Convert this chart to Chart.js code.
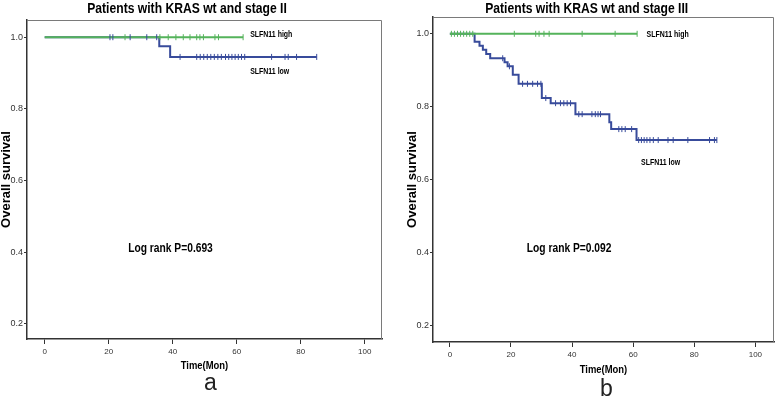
<!DOCTYPE html>
<html><head><meta charset="utf-8">
<script src="https://cdn.jsdelivr.net/npm/chart.js@4.4.0/dist/chart.umd.min.js"></script>
<style>
html,body{margin:0;padding:0;background:#fff;width:778px;height:400px;overflow:hidden;}
#wa{position:absolute;left:0;top:0;width:390px;height:400px;}
#wb{position:absolute;left:390px;top:0;width:388px;height:400px;}
.lab{position:absolute;font-family:'Liberation Sans',Arial,sans-serif;font-size:23px;color:#222;line-height:1;}
</style></head><body>
<div id="wa"><canvas id="ca" width="390" height="400"></canvas></div>
<div id="wb"><canvas id="cb" width="388" height="400"></canvas></div>
<div class="lab" style="left:204px;top:371px;">a</div>
<div class="lab" style="left:600px;top:377px;">b</div>
<script>
// ---- data ----
const xTicks = [0, 20, 40, 60, 80, 100];
const yTicks = [0.2, 0.4, 0.6, 0.8, 1.0];

// Panel a: KRAS wt, stage II
const aTitle = 'Patients with KRAS wt and stage II';
const aHighTime = [0, 62];
const aHighSurv = [1, 1];
const aHighCensor = [25.1, 36, 38.6, 41, 43.3, 45.4, 47.5, 48.5, 49.6, 53.2, 54.3, 62];
const aLowTime = [0, 35.8, 39.2, 85];
const aLowSurv = [1, 0.975, 0.945, 0.945];
const aLowCensor = [20.4, 21.3, 26.7, 31.9, 35, 42.3, 47.5, 48.6, 49.7, 50.8, 51.9, 53, 54.1, 55.2, 56.5, 57.5, 58.5, 59.5, 60.5, 61.5, 62.5, 70.9, 75.1, 76.1, 78.7, 85];
const aPText = 'Log rank P=0.693';

// Panel b: KRAS wt, stage III
const bTitle = 'Patients with KRAS wt and stage III';
const bHighTime = [0, 61.3];
const bHighSurv = [1, 1];
const bHighCensor = [0.5, 1.5, 2.5, 3.5, 4.5, 5.5, 6.5, 7.5, 21.1, 28.1, 29.2, 30.8, 32.5, 43.3, 54.1, 61.3];
const bLowTime = [0, 8.1, 9.7, 10.8, 11.9, 13.2, 17.9, 18.9, 20.6, 22.5, 30.1, 33.0, 41.1, 52.2, 52.8, 61.1, 87.4];
const bLowSurv = [1, 0.978, 0.967, 0.956, 0.945, 0.933, 0.922, 0.911, 0.888, 0.863, 0.824, 0.810, 0.780, 0.758, 0.739, 0.709, 0.709];
const bLowCensor = [17.3, 19.5, 23.8, 25.4, 27.1, 28.7, 29.8, 31.4, 34.6, 36.2, 37.3, 38.4, 39.5, 42.2, 43.3, 46.5, 47.6, 48.5, 49.3, 55.3, 56.3, 57.4, 59.5, 61.8, 62.7, 63.6, 64.5, 65.5, 66.6, 68.2, 71.4, 73.1, 77.9, 85, 86.6, 87.4];
const bPText = 'Log rank P=0.092';

const seriesNames = ['SLFN11 high', 'SLFN11 low'];
const xTitle = 'Time(Mon)';
const yTitle = 'Overall survival';

// ---- styling ----
const GREEN = '#55b35b';
const BLUE = '#384b9b';
const REG = "'Liberation Sans',Arial,sans-serif";
const SQUEEZE = 0.82;

function pts(times, survs) { return times.map((t, i) => ({x: t, y: survs[i]})); }
function survAt(times, survs, t) {
  let s = survs[0];
  for (let i = 0; i < times.length; i++) { if (times[i] <= t) s = survs[i]; }
  return s;
}
function censorPts(cens, times, survs) { return cens.map(t => ({x: t, y: survAt(times, survs, t)})); }

function squeezedText(ctx, text, x, y, font, align) {
  ctx.save();
  ctx.translate(x, y);
  ctx.scale(SQUEEZE, 1);
  ctx.font = font;
  ctx.textAlign = align;
  ctx.textBaseline = 'middle';
  ctx.fillText(text, 0, 0);
  ctx.restore();
}

const kmPlugin = {
  id: 'km',
  afterDraw(chart, args, o) {
    const {ctx, chartArea: ca, scales} = chart;
    ctx.save();
    ctx.strokeStyle = '#7a7a7a';
    ctx.lineWidth = 1;
    ctx.beginPath();
    ctx.moveTo(ca.left, ca.top + 0.5);
    ctx.lineTo(ca.right - 0.5, ca.top + 0.5);
    ctx.lineTo(ca.right - 0.5, ca.bottom);
    ctx.stroke();
    ctx.fillStyle = '#000';
    squeezedText(ctx, o.title, o.titleX, o.titleY, 'bold 14.8px ' + REG, 'center');
    squeezedText(ctx, xTitle, (ca.left + ca.right) / 2, o.xTitleY, 'bold 11.5px ' + REG, 'center');
    for (const l of o.labels) {
      squeezedText(ctx, l.text, scales.x.getPixelForValue(l.x), scales.y.getPixelForValue(l.y), l.font, 'left');
    }
    ctx.restore();
  }
};

function makeChart(id, d) {
  const ds = [
    {type: 'scatter', data: censorPts(d.highCensor, d.highTime, d.highSurv), showLine: false,
     pointStyle: 'line', rotation: 90, pointRadius: 3, pointBorderWidth: 1, borderColor: GREEN, backgroundColor: GREEN, pointHoverRadius: 3},
    {type: 'scatter', data: censorPts(d.lowCensor, d.lowTime, d.lowSurv), showLine: false,
     pointStyle: 'line', rotation: 90, pointRadius: 3, pointBorderWidth: 1, borderColor: BLUE, backgroundColor: BLUE, pointHoverRadius: 3},
    {type: 'line', label: seriesNames[0], data: pts(d.highTime, d.highSurv), stepped: true, borderColor: GREEN, borderWidth: 2, pointRadius: 0, fill: false, tension: 0},
    {type: 'line', label: seriesNames[1], data: pts(d.lowTime, d.lowSurv), stepped: true, borderColor: BLUE, borderWidth: 2, pointRadius: 0, fill: false, tension: 0}
  ];
  return new Chart(document.getElementById(id), {
    type: 'line',
    data: {datasets: ds},
    plugins: [kmPlugin],
    options: {
      responsive: false, animation: false, devicePixelRatio: 1,
      layout: {padding: d.pad},
      plugins: {
        legend: {display: false}, tooltip: {enabled: false}, title: {display: false},
        km: {title: d.title, titleX: d.titleX, titleY: d.titleY, xTitleY: d.xTitleY, labels: d.labels}
      },
      scales: {
        x: {
          type: 'linear', min: d.xMin, max: d.xMax,
          afterBuildTicks: s => { s.ticks = xTicks.map(v => ({value: v})); },
          afterFit: s => { s.height = d.xH; },
          grid: {drawOnChartArea: false, drawTicks: true, tickLength: 5, tickColor: '#333', tickWidth: 1},
          border: {display: true, color: '#333', width: 1.5},
          ticks: {font: {family: REG, size: 8}, color: '#333', padding: 3, maxRotation: 0, autoSkip: false},
          title: {display: false}
        },
        y: {
          type: 'linear', min: d.yMin, max: d.yMax,
          afterBuildTicks: s => { s.ticks = yTicks.map(v => ({value: v})); },
          afterFit: s => { s.width = d.yW; },
          grid: {drawOnChartArea: false, drawTicks: true, tickLength: 3, tickColor: '#333', tickWidth: 1},
          border: {display: true, color: '#333', width: 1.5},
          ticks: {font: {family: REG, size: 9}, color: '#333', padding: 1, callback: v => Number(v).toFixed(1)},
          title: {display: true, text: yTitle, font: {family: REG, size: 13, weight: 'bold', lineHeight: 1}, color: '#000', padding: 0}
        }
      }
    }
  });
}

makeChart('ca', {
  highTime: aHighTime, highSurv: aHighSurv, highCensor: aHighCensor,
  lowTime: aLowTime, lowSurv: aLowSurv, lowCensor: aLowCensor,
  title: aTitle, titleX: 187, titleY: 8.5, xTitleY: 366,
  labels: [
    {text: seriesNames[0], x: 64.2, y: 1.006, font: 'bold 8.5px ' + REG},
    {text: seriesNames[1], x: 64.2, y: 0.904, font: 'bold 8.5px ' + REG},
    {text: aPText, x: 26.1, y: 0.411, font: 'bold 12.5px ' + REG}
  ],
  pad: {left: 0, right: 8, top: 20, bottom: 28},
  xH: 33, yW: 27,
  xMin: -5.53, xMax: 105.4, yMin: 0.158, yMax: 1.048
});

makeChart('cb', {
  highTime: bHighTime, highSurv: bHighSurv, highCensor: bHighCensor,
  lowTime: bLowTime, lowSurv: bLowSurv, lowCensor: bLowCensor,
  title: bTitle, titleX: 196.7, titleY: 9, xTitleY: 370,
  labels: [
    {text: seriesNames[0], x: 64.4, y: 0.997, font: 'bold 8.5px ' + REG},
    {text: seriesNames[1], x: 62.6, y: 0.648, font: 'bold 8.5px ' + REG},
    {text: bPText, x: 25.2, y: 0.412, font: 'bold 12.5px ' + REG}
  ],
  pad: {left: 16, right: 1, top: 17, bottom: 24},
  xH: 34, yW: 27,
  xMin: -5.52, xMax: 106.1, yMin: 0.156, yMax: 1.046
});
</script>
</body></html>
